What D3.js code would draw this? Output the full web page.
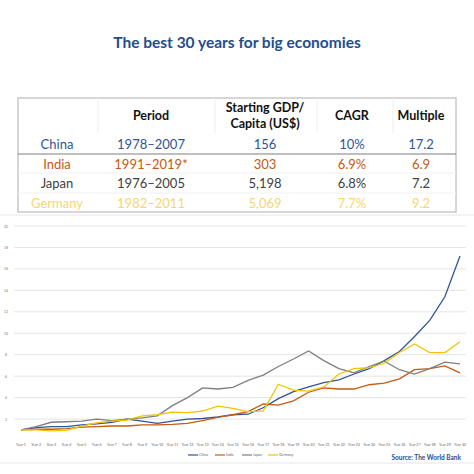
<!DOCTYPE html>
<html><head><meta charset="utf-8">
<script src="https://cdn.jsdelivr.net/npm/d3@7"></script>
<style>body{margin:0;background:#fff}svg{font-family:Lato,"Open Sans",sans-serif}</style>
</head><body><svg id="c" width="474" height="474"></svg>
<script>
const years = d3.range(1,31).map(i=>"Year "+i);
const china = [1,1.2,1.3,1.3,1.45,1.55,1.7,2.0,1.8,1.6,1.8,2.0,2.05,2.2,2.4,2.45,3.05,3.9,4.55,5.0,5.4,5.65,6.2,6.7,7.45,8.3,9.7,11.2,13.4,17.2];
const india = [1,1.05,1.05,1.1,1.25,1.3,1.35,1.35,1.45,1.45,1.5,1.6,1.85,2.15,2.4,2.7,3.4,3.3,3.7,4.5,4.9,4.8,4.8,5.2,5.35,5.75,6.6,6.7,6.95,6.3];
const japan = [1,1.3,1.7,1.75,1.8,2.0,1.85,2.0,2.1,2.3,3.25,4.0,4.9,4.8,4.95,5.6,6.1,6.9,7.6,8.35,7.45,6.7,6.3,6.9,7.4,6.6,6.2,6.7,7.3,7.15];
const germany = [1,1.0,0.9,0.95,1.35,1.65,1.8,1.9,2.3,2.4,2.65,2.6,2.75,3.2,3.0,2.7,2.75,5.25,4.7,4.6,5.0,6.2,6.7,6.8,7.2,8.2,9.0,8.2,8.2,9.2];
const yTicks = [0,2,4,6,8,10,12,14,16,18,20];
const tableHead = ["", "Period", "Starting GDP/\nCapita (US$)", "CAGR", "Multiple"];
const tableRows = [
 ["China","1978–2007","156","10%","17.2"],
 ["India","1991–2019*","303","6.9%","6.9"],
 ["Japan","1976–2005","5,198","6.8%","7.2"],
 ["Germany","1982–2011","5,069","7.7%","9.2"]];
const names = ["China","India","Japan","Germany"];
const colors = ["#2f5597","#c55a11","#7f7f7f","#f2c500"];
const textColors = ["#2f5597","#c55a11","#404040","#f5d76e"];
const series = [china,india,japan,germany];

const svg = d3.select("#c");
svg.append("text").attr("x",237).attr("y",48).attr("text-anchor","middle")
 .attr("font-size",15.5).attr("font-weight","bold").attr("fill","#1f4e8c").text("The best 30 years for big economies");

// table
const tx=18, tw=438, ty=98;
svg.append("rect").attr("x",tx).attr("y",ty).attr("width",tw).attr("height",114).attr("fill","none").attr("stroke","#c8c8c8").attr("stroke-width",1.5);
const colX=[57,151,265,352,421];
[98,215,317,393].forEach(x=>svg.append("line").attr("x1",x).attr("x2",x).attr("y1",ty).attr("y2",133).attr("stroke","#eee"));
svg.append("line").attr("x1",tx).attr("x2",tx+tw).attr("y1",154).attr("y2",154).attr("stroke","#7f7f7f").attr("stroke-width",1.2);
[173,193].forEach(y=>svg.append("line").attr("x1",tx).attr("x2",tx+tw).attr("y1",y).attr("y2",y).attr("stroke","#f0f0f0"));
tableHead.forEach((h,i)=>{
 const lines=h.split("\n");
 const t=svg.append("text").attr("x",colX[i]).attr("text-anchor","middle").attr("font-size",12.5).attr("font-weight","bold").attr("fill","#111");
 lines.forEach((l,j)=>t.append("tspan").attr("x",colX[i]).attr("y",lines.length>1?112+j*16:120).text(l));
});
tableRows.forEach((r,ri)=>r.forEach((v,ci)=>{
 svg.append("text").attr("x",colX[ci]).attr("y",149+ri*19.6).attr("text-anchor","middle").attr("font-size",13)
  .attr("fill",textColors[ri]).text(v);
}));

// chart
svg.append("line").attr("x1",0).attr("x2",474).attr("y1",215).attr("y2",215).attr("stroke","#e6e6e6");
svg.append("line").attr("x1",0).attr("x2",474).attr("y1",463).attr("y2",463).attr("stroke","#e6e6e6");
const x = d3.scalePoint().domain(years).range([21,460]);
const y = d3.scaleLinear().domain([0,20]).range([440.5,226]);
const g=svg.append("g");
yTicks.forEach(t=>{
 if(t>0) g.append("line").attr("x1",14).attr("x2",466).attr("y1",y(t)).attr("y2",y(t)).attr("stroke","#e4e4e4");
 g.append("text").attr("x",6).attr("y",y(t)+1.5).attr("text-anchor","middle").attr("font-size",3.5).attr("fill","#777").text(t===0?"":t);
});
years.forEach(yr=>g.append("text").attr("x",x(yr)).attr("y",446).attr("text-anchor","middle").attr("font-size",3.6).attr("fill","#666").text(yr));
const line=d3.line().x((d,i)=>x(years[i])).y(d=>y(d));
series.forEach((s,i)=>g.append("path").attr("d",line(s)).attr("fill","none").attr("stroke",colors[i]).attr("stroke-width",1.3));
// legend
const lx=[188,215,242,268];
names.forEach((n,i)=>{
 g.append("line").attr("x1",lx[i]).attr("x2",lx[i]+10).attr("y1",455).attr("y2",455).attr("stroke",colors[i]).attr("stroke-width",1.2);
 g.append("text").attr("x",lx[i]+11).attr("y",456.3).attr("font-size",3.6).attr("fill","#666").text(n);
});
svg.append("text").attr("x",461).attr("y",460).attr("text-anchor","end").attr("font-size",6.5).attr("font-weight","bold").attr("fill","#1f4e8c").text("Source: The World Bank");
</script></body></html>
